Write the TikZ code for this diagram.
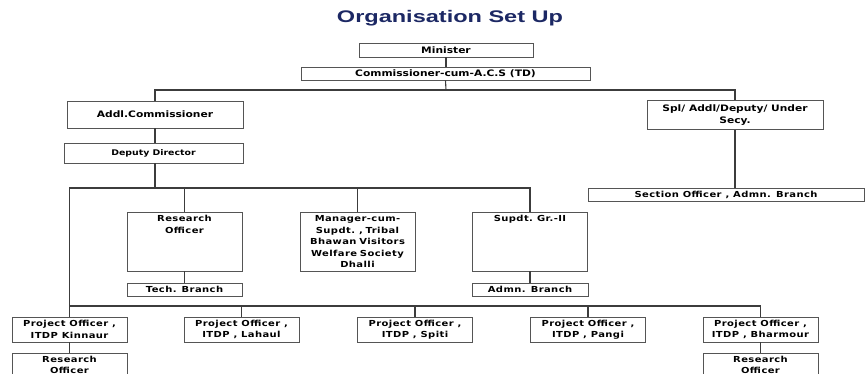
\documentclass[tikz,border=0pt]{standalone}
\usepackage{fontspec}
\usepackage{xcolor}
\usetikzlibrary{positioning}
\newfontfamily\titlefont[FakeStretch=1.4]{Liberation Sans Bold}
\newfontfamily\headfont[FakeStretch=1.2]{DejaVu Sans Bold}
\newfontfamily\cellfont[FakeStretch=1.2,LetterSpace=5]{DejaVu Sans Bold}
\definecolor{titleblue}{RGB}{28,40,100}
\definecolor{boxgray}{RGB}{85,85,85}
\definecolor{linegray}{RGB}{60,60,60}
\tikzset{
  orgbox/.style={draw=boxgray, line width=0.9pt, inner sep=1pt, align=center,
    font=\headfont\fontsize{8.9}{12}\selectfont},
  unitbox/.style={orgbox, inner ysep=2pt, font=\cellfont\fontsize{8.3}{11.5}\selectfont},
  tallbox/.style={unitbox, minimum width=115pt, text width=111pt, text height=8pt, text depth=47pt},
  pobox/.style={unitbox, minimum width=115pt, minimum height=25pt},
  link/.style={draw=linegray, line width=1.1pt},
  busline/.style={link, line width=1.6pt}
}

\begin{document}
\begin{tikzpicture}[x=1pt,y=-1pt]
\useasboundingbox (0,0) rectangle (865,374);
\node[text=titleblue, font=\titlefont\fontsize{16.8}{18}\selectfont] (title) at (450,18) {Organisation Set Up};

% top levels
\node[orgbox, minimum width=174pt, minimum height=14pt] (min) at (446,50) {Minister};
\node[orgbox, minimum width=289pt, minimum height=13pt] (comm) at (445.5,73.5) {Commissioner-cum-A.C.S (TD)};
\node[orgbox, minimum width=176pt, minimum height=27pt] (addl) at (155,114.5) {Addl.Commissioner};
\node[orgbox, minimum width=176pt, minimum height=29pt] (spl) at (735,115) {Spl/ Addl/Deputy/ Under\\Secy.};
\node[orgbox, minimum width=179pt, minimum height=20pt, font=\headfont\fontsize{7.8}{10}\selectfont] (dd) at (153.5,153) {Deputy Director};
\node[unitbox, minimum width=276pt, minimum height=13pt] (sec) at (726,194.5) {Section Officer , Admn. Branch};

% branches
\node[tallbox] (ro) at (184.5,241.5) {Research\\Officer};
\node[tallbox] (mgr) at (357.5,241.5) {Manager-cum-\\Supdt. , Tribal\\Bhawan Visitors\\Welfare Society\\Dhalli};
\node[tallbox] (sup) at (530,241.5) {Supdt. Gr.-II};
\node[unitbox, minimum width=115pt, minimum height=13pt] (tech) at (184.5,289.5) {Tech. Branch};
\node[unitbox, minimum width=116pt, minimum height=13pt] (admn) at (530,289.5) {Admn. Branch};

% project officers
\node[pobox] (kin) at (69.5,329.5) {Project Officer ,\\ITDP Kinnaur};
\node[pobox] (lah) at (241.5,329.5) {Project Officer ,\\ITDP , Lahaul};
\node[pobox] (spi) at (415,329.5) {Project Officer ,\\ITDP , Spiti};
\node[pobox] (pan) at (588,329.5) {Project Officer ,\\ITDP , Pangi};
\node[pobox] (bha) at (760.5,329.5) {Project Officer ,\\ITDP , Bharmour};
\node[unitbox, minimum width=115pt, text width=111pt, text height=7pt, text depth=20pt] (rokin) at (69.5,368.5) {Research\\Officer};
\node[unitbox, minimum width=115pt, text width=111pt, text height=7pt, text depth=20pt] (robha) at (760.5,368.5) {Research\\Officer};

% connectors
\coordinate (bus1) at (446,90);
\coordinate (bus2) at (155,188);
\coordinate (bus3) at (415,306);
\draw[link] (min.south) -- (min.south |- comm.north);
\draw[link] (comm.south) -- (bus1);
\draw[busline] (addl.north) |- (bus1) -| (spl.north);
\draw[link] (addl.south) -- (addl.south |- dd.north);
\draw[link] (addl.south |- dd.south) -- (bus2);
\draw[busline] (kin.north) |- (bus2) -| (sup.north);
\draw[link] (ro.north) -- (ro.north |- bus2);
\draw[link] (mgr.north) -- (mgr.north |- bus2);
\draw[link] (ro.south) -- (tech.north);
\draw[link] (sup.south) -- (admn.north);
\draw[link] (spl.south) -- (spl.south |- sec.north);
\draw[link] (kin.north |- bus3) -| (bha.north);
\draw[link] (lah.north) -- (lah.north |- bus3);
\draw[link] (spi.north) -- (spi.north |- bus3);
\draw[link] (pan.north) -- (pan.north |- bus3);
\draw[link] (kin.south) -- (rokin.north);
\draw[link] (bha.south) -- (robha.north);
\end{tikzpicture}
\end{document}
